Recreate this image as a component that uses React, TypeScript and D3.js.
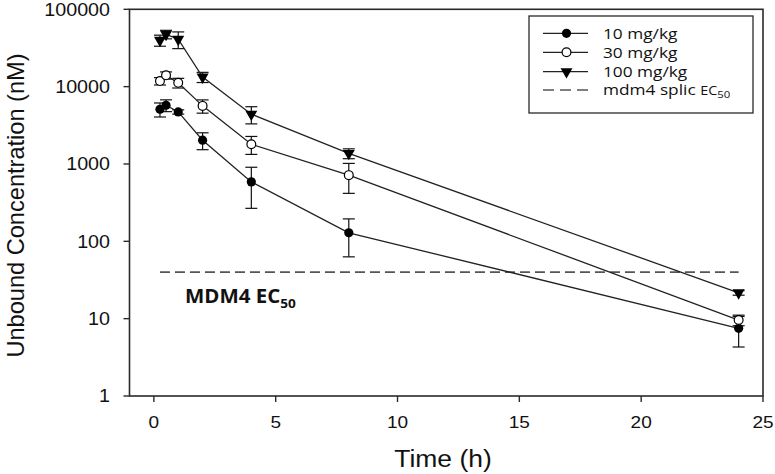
import React from "react";
import * as d3 from "d3";

const times = [0.25, 0.5, 1, 2, 4, 8, 24];
const dose10 = [5100, 5750, 4710, 2030, 587, 129, 7.5];
const dose10Sd = [1050, 1000, 300, 500, 320, 66, 3.2];
const dose30 = [11800, 14000, 11200, 5640, 1800, 717, 9.6];
const dose30Sd = [1300, 1500, 1600, 1100, 470, 300, 1.5];
const dose100 = [39800, 47500, 41000, 13300, 4400, 1370, 21.6];
const dose100Sd = [6500, 6000, 10000, 2000, 1100, 200, 1.5];
const ec50Value = 40;
const ec50Span = [0.25, 24];
const xTicks = [0, 5, 10, 15, 20, 25];
const yTicks = [1, 10, 100, 1000, 10000, 100000];
const seriesLabels = ["10 mg/kg", "30 mg/kg", "100 mg/kg"];
const seriesSymbols = ["filled", "open", "triangle"];

const W = 775;
const H = 474;
const SX = 1.12; // horizontal text stretch of the reference
const AX = "#2a2a2a";

const x = d3.scaleLinear().domain([-1, 25]).range([129.5, 763]);
const y = d3.scaleLog().domain([1, 100000]).range([396, 9.3]);

const series = [
  { label: seriesLabels[0], sym: seriesSymbols[0], vals: dose10, sd: dose10Sd },
  { label: seriesLabels[1], sym: seriesSymbols[1], vals: dose30, sd: dose30Sd },
  { label: seriesLabels[2], sym: seriesSymbols[2], vals: dose100, sd: dose100Sd },
];

function Marker({ sym, cx, cy }: { sym: string; cx: number; cy: number }) {
  if (sym === "filled") return <circle cx={cx} cy={cy} r={4.6} fill="#000" />;
  if (sym === "open")
    return <circle cx={cx} cy={cy} r={4.4} fill="#fff" stroke="#000" strokeWidth={1.2} />;
  const tri = d3.symbol().type(d3.symbolTriangle).size(62)();
  return <path d={tri || ""} transform={`translate(${cx},${cy}) rotate(180)`} fill="#000" />;
}

function STxt({ x0, y0, size, anchor = "start", weight = "normal", family, sx = SX, children }: any) {
  return (
    <g transform={`translate(${x0},${y0}) scale(${sx},1)`}>
      <text x={0} y={0} fontSize={size} textAnchor={anchor} fontWeight={weight} fontFamily={family} fill="#111">
        {children}
      </text>
    </g>
  );
}

export default function App() {
  const line = d3
    .line<number>()
    .x((_, i) => x(times[i]))
    .y((d) => y(d));
  const cap = 6;
  const legendRows = [33.3, 52.3, 71.7, 90];
  const sans = "'Liberation Sans', Arial, sans-serif";
  const human = "'Open Sans', 'Noto Sans', sans-serif";

  return (
    <svg width={W} height={H} style={{ position: "absolute", left: 0, top: 0, background: "#fff" }}>
      <rect x={0} y={0} width={W} height={H} fill="#fff" />

      {/* EC50 dashed line */}
      <line
        x1={x(ec50Span[0])}
        x2={x(ec50Span[1])}
        y1={y(ec50Value)}
        y2={y(ec50Value)}
        stroke="#555"
        strokeWidth={1.6}
        strokeDasharray="10,5"
      />

      {/* error bars */}
      {series.map((s, si) => (
        <g key={"e" + si} stroke="#111" strokeWidth={1.2}>
          {s.vals.map((v, i) => {
            const px = x(times[i]);
            const hi = y(v + s.sd[i]);
            const lo = y(Math.max(v - s.sd[i], 1));
            return (
              <g key={i}>
                <line x1={px} x2={px} y1={hi} y2={lo} />
                <line x1={px - cap} x2={px + cap} y1={hi} y2={hi} />
                <line x1={px - cap} x2={px + cap} y1={lo} y2={lo} />
              </g>
            );
          })}
        </g>
      ))}

      {/* lines */}
      {series.map((s, si) => (
        <path key={"l" + si} d={line(s.vals) || ""} fill="none" stroke="#222" strokeWidth={1.3} />
      ))}

      {/* markers */}
      {series.map((s, si) => (
        <g key={"m" + si}>
          {s.vals.map((v, i) => (
            <Marker key={i} sym={s.sym} cx={x(times[i])} cy={y(v)} />
          ))}
        </g>
      ))}

      {/* frame */}
      <rect
        x={x.range()[0]}
        y={y.range()[1]}
        width={x.range()[1] - x.range()[0]}
        height={y.range()[0] - y.range()[1]}
        fill="none"
        stroke={AX}
        strokeWidth={1.6}
      />

      {/* y ticks */}
      {yTicks.map((t) => (
        <g key={"yt" + t}>
          <line x1={x.range()[0] - 6} x2={x.range()[0]} y1={y(t)} y2={y(t)} stroke={AX} strokeWidth={1.4} />
          <STxt x0={110} y0={y(t) + 6.3} size={17.6} anchor="end" family={sans}>
            {String(t)}
          </STxt>
        </g>
      ))}

      {/* x ticks */}
      {xTicks.map((t) => (
        <g key={"xt" + t}>
          <line x1={x(t)} x2={x(t)} y1={y.range()[0]} y2={y.range()[0] + 6} stroke={AX} strokeWidth={1.4} />
          <STxt x0={x(t)} y0={428} size={17} anchor="middle" family={sans}>
            {String(t)}
          </STxt>
        </g>
      ))}

      {/* axis titles */}
      <STxt x0={443} y0={467} size={24.5} anchor="middle" family={sans} sx={1.08}>
        Time (h)
      </STxt>
      <g transform={`translate(23.5, 205.5) scale(1.04,1) rotate(-90)`}>
        <text x={0} y={0} fontSize={23.6} textAnchor="middle" fontFamily={sans} fill="#111">
          Unbound Concentration (nM)
        </text>
      </g>

      {/* MDM4 EC50 annotation */}
      <g transform={`translate(185, 302.5) scale(1.05,1)`}>
        <text x={0} y={0} fontSize={19.5} fontWeight="bold" fontFamily={human} fill="#111">
          MDM4 EC
          <tspan fontSize={13} dy={5}>50</tspan>
        </text>
      </g>

      {/* legend */}
      <rect x={529} y={16} width={224} height={97} fill="#fff" stroke={AX} strokeWidth={1.3} />
      {series.map((s, si) => (
        <g key={"lg" + si}>
          <line x1={543} x2={588} y1={legendRows[si]} y2={legendRows[si]} stroke="#222" strokeWidth={1.3} />
          <Marker sym={s.sym} cx={566.5} cy={legendRows[si]} />
          <STxt x0={603} y0={legendRows[si] + 5.3} size={14.4} family={human} sx={1.2}>
            {s.label}
          </STxt>
        </g>
      ))}
      <line x1={543} x2={588} y1={legendRows[3]} y2={legendRows[3]} stroke="#555" strokeWidth={1.6} strokeDasharray="11,6" />
      <g transform={`translate(603, ${legendRows[3] + 5.3}) scale(1.2,1)`}>
        <text x={0} y={0} fontSize={14.4} fontFamily={human} fill="#111">
          mdm4 splic <tspan fontSize={12}>EC</tspan>
          <tspan fontSize={9.5} dy={2.5}>50</tspan>
        </text>
      </g>
    </svg>
  );
}
